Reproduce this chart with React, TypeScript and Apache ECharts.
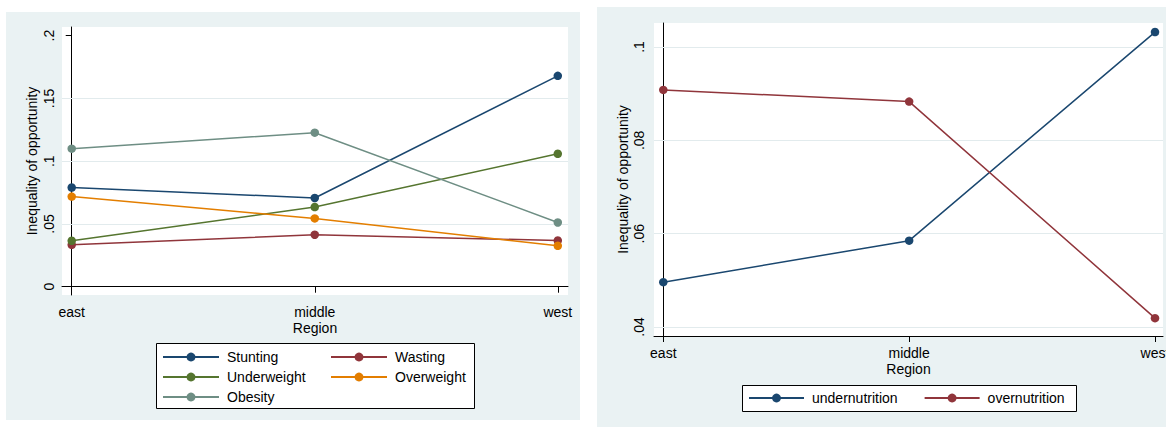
import React, { useEffect, useRef } from "react";
import * as echarts from "echarts";

const regions = ["east", "middle", "west"];

const stunting = [0.079, 0.0707, 0.168];
const wasting = [0.0334, 0.0414, 0.0368];
const underweight = [0.0366, 0.0635, 0.1059];
const overweight = [0.0718, 0.0544, 0.0326];
const obesity = [0.11, 0.1227, 0.0512];

const undernutrition = [0.0496, 0.0585, 0.1032];
const overnutrition = [0.0908, 0.0883, 0.0419];

const leftTicks = [0, 0.05, 0.1, 0.15, 0.2];
const leftGrid = [0.05, 0.1, 0.15];
const rightTicks = [0.04, 0.06, 0.08, 0.1];
const rightGrid = [0.04, 0.06, 0.08, 0.1];

const NAVY = "#1a476f";
const MAROON = "#90353b";
const GREEN = "#55752f";
const ORANGE = "#e37e00";
const TEAL = "#6e8e84";
const BG = "#eaf2f3";
const FONT = "Liberation Sans, Arial, Helvetica, sans-serif";

const fmtY = (v: number) => (v === 0 ? "0" : String(v).replace(/^0\./, "."));

const toPts = (arr: number[]) => arr.map((v, i) => [i, v]);

function App() {
  const ref = useRef<HTMLDivElement>(null);
  useEffect(() => {
    if (!ref.current) return;
    const chart = echarts.init(ref.current, null, { renderer: "svg" });

    const mkSeries = (
      name: string,
      data: number[],
      color: string,
      idx: number,
      grid?: number[]
    ) => {
      const s: any = {
        name,
        type: "line",
        xAxisIndex: idx,
        yAxisIndex: idx,
        data: toPts(data),
        symbol: "circle",
        symbolSize: 8.5,
        showSymbol: true,
        itemStyle: { color },
        lineStyle: { color, width: 1.5 },
        emphasis: { disabled: true },
        z: 3,
      };
      if (grid) {
        s.markLine = {
          silent: true,
          symbol: "none",
          z: 1,
          label: { show: false },
          lineStyle: { color: "#e2ebed", width: 1, type: "solid" },
          data: grid.map((g) => ({ yAxis: g })),
        };
      }
      return s;
    };

    const xAxisBase = (idx: number, min: number, max: number, nameGap: number) => ({
      type: "value",
      gridIndex: idx,
      min,
      max,
      name: "Region",
      nameLocation: "middle",
      nameGap,
      nameMoveOverlap: false,
      nameTextStyle: { fontSize: 14, color: "#000", fontFamily: FONT },
      axisLine: { show: true, lineStyle: { color: "#000", width: 1 } },
      axisTick: {
        show: true,
        length: 6,
        customValues: [0, 1, 2],
        lineStyle: { color: "#000" },
      },
      axisLabel: {
        customValues: [0, 1, 2],
        formatter: (v: number) => regions[Math.round(v)] ?? "",
        fontSize: 14,
        color: "#000",
        fontFamily: FONT,
        margin: 10,
        hideOverlap: false,
      },
      splitLine: { show: false },
    });

    const yAxisBase = (
      idx: number,
      min: number,
      max: number,
      ticks: number[],
      nameGap: number,
      margin: number
    ) => ({
      type: "value",
      gridIndex: idx,
      min,
      max,
      name: "Inequality of opportunity",
      nameLocation: "middle",
      nameGap,
      nameMoveOverlap: false,
      nameTextStyle: { fontSize: 14, color: "#000", fontFamily: FONT },
      axisLine: { show: true, lineStyle: { color: "#000", width: 1 } },
      axisTick: {
        show: true,
        length: 6,
        customValues: ticks,
        lineStyle: { color: "#000" },
      },
      axisLabel: {
        customValues: ticks,
        formatter: fmtY,
        rotate: 90,
        fontSize: 14,
        color: "#000",
        fontFamily: FONT,
        margin: margin,
      },
      splitLine: { show: false },
    });

    const legendCommon = {
      orient: "vertical",
      padding: 0,
      itemWidth: 56,
      itemHeight: 11,
      itemGap: 6,
      selectedMode: false,
      textStyle: {
        fontSize: 14,
        color: "#000",
        fontFamily: FONT,
        padding: [0, 0, 0, 3],
      },
    };

    chart.setOption({
      animation: false,
      backgroundColor: "#fff",
      textStyle: { fontFamily: FONT },
      graphic: [
        { type: "rect", z: -10, shape: { x: 6, y: 12, width: 574, height: 408 }, style: { fill: BG } },
        { type: "rect", z: -10, shape: { x: 597, y: 7, width: 580, height: 430 }, style: { fill: BG } },
        { type: "rect", z: -5, shape: { x: 62, y: 27, width: 506, height: 268 }, style: { fill: "#fff" } },
        { type: "rect", z: -5, shape: { x: 654, y: 23, width: 509, height: 313 }, style: { fill: "#fff" } },
        {
          type: "rect",
          z: 1,
          shape: { x: 156.5, y: 343.5, width: 318, height: 65 },
          style: { fill: "#fff", stroke: "#000", lineWidth: 1 },
        },
        {
          type: "rect",
          z: 1,
          shape: { x: 742.5, y: 385.5, width: 334, height: 26 },
          style: { fill: "#fff", stroke: "#000", lineWidth: 1 },
        },
      ],
      grid: [
        { left: 62, top: 27, width: 506, height: 268, show: false, containLabel: false, outerBoundsMode: "none" },
        { left: 654, top: 23, width: 509, height: 313, show: false, containLabel: false, outerBoundsMode: "none" },
      ],
      xAxis: [xAxisBase(0, -0.04, 2.042, 26), xAxisBase(1, -0.0378, 2.0325, 26)],
      yAxis: [
        yAxisBase(0, -0.0066, 0.2069, leftTicks, 23, 6),
        yAxisBase(1, 0.03807, 0.10514, rightTicks, 24, 8),
      ],
      legend: [
        {
          ...legendCommon,
          left: 162,
          top: 350,
          data: ["Stunting", "Underweight", "Obesity"],
        },
        {
          ...legendCommon,
          left: 330,
          top: 350,
          data: ["Wasting", "Overweight"],
        },
        {
          ...legendCommon,
          orient: "horizontal",
          itemWidth: 55,
          itemGap: 26,
          left: 748,
          top: 391,
          data: ["undernutrition", "overnutrition"],
        },
      ],
      series: [
        mkSeries("Stunting", stunting, NAVY, 0, leftGrid),
        mkSeries("Wasting", wasting, MAROON, 0),
        mkSeries("Underweight", underweight, GREEN, 0),
        mkSeries("Overweight", overweight, ORANGE, 0),
        mkSeries("Obesity", obesity, TEAL, 0),
        mkSeries("undernutrition", undernutrition, NAVY, 1, rightGrid),
        mkSeries("overnutrition", overnutrition, MAROON, 1),
      ],
    });

    return () => chart.dispose();
  }, []);

  return (
    <div
      ref={ref}
      style={{ position: "absolute", left: 0, top: 0, width: 1166, height: 427 }}
    />
  );
}

export default App;
